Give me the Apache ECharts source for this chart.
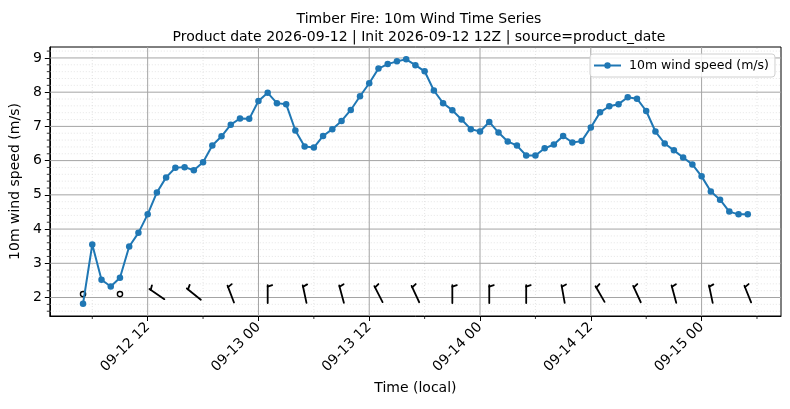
<!DOCTYPE html>
<html>
<head>
<meta charset="utf-8">
<title>Timber Fire: 10m Wind Time Series</title>
<script src="https://cdn.jsdelivr.net/npm/echarts@6/dist/echarts.min.js"></script>
<style>
  html, body { margin: 0; padding: 0; background: #fff; }
  #chart { width: 790px; height: 409px; }
</style>
</head>
<body>
<div id="chart"></div>
<script>
// hours since 2026-09-12 00:00 local
const hours = [5, 6, 7, 8, 9, 10, 11, 12, 13, 14, 15, 16, 17, 18, 19, 20, 21, 22, 23, 24,
  25, 26, 27, 28, 29, 30, 31, 32, 33, 34, 35, 36, 37, 38, 39, 40, 41, 42, 43, 44,
  45, 46, 47, 48, 49, 50, 51, 52, 53, 54, 55, 56, 57, 58, 59, 60, 61, 62, 63, 64,
  65, 66, 67, 68, 69, 70, 71, 72, 73, 74, 75, 76, 77];
const windSpeed = [1.82, 3.55, 2.52, 2.32, 2.58, 3.49, 3.89, 4.43, 5.07, 5.51, 5.79, 5.81, 5.72, 5.95, 6.44, 6.71, 7.05, 7.23, 7.22, 7.74,
  7.98, 7.68, 7.65, 6.88, 6.41, 6.38, 6.72, 6.92, 7.16, 7.48, 7.88, 8.26, 8.69, 8.82, 8.90, 8.96, 8.79, 8.61, 8.05, 7.68,
  7.47, 7.20, 6.92, 6.85, 7.13, 6.82, 6.56, 6.44, 6.15, 6.15, 6.36, 6.47, 6.72, 6.53, 6.57, 6.97, 7.41, 7.59, 7.65, 7.85,
  7.81, 7.45, 6.85, 6.50, 6.30, 6.09, 5.89, 5.54, 5.10, 4.86, 4.51, 4.43, 4.43];

// wind barbs every 4 h, direction in degrees (wind from), null = calm
const barbHours = [5, 9, 13, 17, 21, 25, 29, 33, 37, 41, 45, 49, 53, 57, 61, 65, 69, 73, 77];
const barbDir = [null, null, 304, 309, 339, 0, 348, 345, 333, 335, 0, 0, 0, 350, 330, 335, 345, 348, 338];
const BARB_LEVEL = 2.1;

const xTickHours = [12, 24, 36, 48, 60, 72];
const xTickLabels = ['09-12 12', '09-13 00', '09-13 12', '09-14 00', '09-14 12', '09-15 00'];
const xMinorHours = [6, 18, 30, 42, 54, 66, 78];
const yTicks = [2, 3, 4, 5, 6, 7, 8, 9];
const yMinor = [1.6, 1.8, 2.2, 2.4, 2.6, 2.8, 3.2, 3.4, 3.6, 3.8, 4.2, 4.4, 4.6, 4.8, 5.2, 5.4, 5.6, 5.8,
  6.2, 6.4, 6.6, 6.8, 7.2, 7.4, 7.6, 7.8, 8.2, 8.4, 8.6, 8.8, 9.2];

const X_MIN = 1.4, X_MAX = 80.6;
const Y_MIN = 1.46, Y_MAX = 9.32;

const FONT = 'DejaVu Sans';

// grid lines drawn through the axes' own scales
function gridLines(vals, isX, style) {
  return {
    type: 'custom', silent: true, z: 1, clip: false,
    data: vals.map(v => isX ? [v, Y_MIN] : [X_MIN, v]),
    renderItem: (params, api) => {
      const a = isX ? api.coord([api.value(0), Y_MIN]) : api.coord([X_MIN, api.value(1)]);
      const b = isX ? api.coord([api.value(0), Y_MAX]) : api.coord([X_MAX, api.value(1)]);
      return { type: 'line', shape: { x1: a[0], y1: a[1], x2: b[0], y2: b[1] }, style: style };
    }
  };
}

// minor tick marks outside the axes
function minorTicks(vals, isX, len) {
  return {
    type: 'custom', silent: true, z: 2, clip: false,
    data: vals.map(v => isX ? [v, Y_MIN] : [X_MIN, v]),
    renderItem: (params, api) => {
      const a = isX ? api.coord([api.value(0), Y_MIN]) : api.coord([X_MIN, api.value(1)]);
      const b = isX ? [a[0], a[1] + len] : [a[0] - len, a[1]];
      return { type: 'line', shape: { x1: a[0], y1: a[1], x2: b[0], y2: b[1] }, style: { stroke: '#000', lineWidth: 0.8 } };
    }
  };
}

const chart = echarts.init(document.getElementById('chart'));

const option = {
  animation: false,
  title: {
    text: 'Timber Fire: 10m Wind Time Series\nProduct date 2026-09-12 | Init 2026-09-12 12Z | source=product_date',
    left: 414,
    textAlign: 'center',
    top: 5,
    textStyle: { fontFamily: FONT, fontSize: 14, fontWeight: 'normal', color: '#000', lineHeight: 18 }
  },
  legend: {
    data: ['10m wind speed (m/s)'],
    left: 590,
    top: 54,
    padding: [5, 6, 5, 3],
    itemWidth: 27,
    itemHeight: 8,
    borderColor: '#d0d0d0',
    borderWidth: 1,
    borderRadius: 3,
    backgroundColor: 'rgba(255,255,255,0.85)',
    textStyle: { fontFamily: FONT, fontSize: 12.5, color: '#000', padding: [0, 0, 0, 3] }
  },
  grid: {
    left: 47, right: 9, top: 47, bottom: 93,
    show: true, borderColor: '#000', borderWidth: 1, backgroundColor: 'transparent'
  },
  xAxis: {
    type: 'value',
    min: X_MIN, max: X_MAX,
    name: 'Time (local)',
    nameLocation: 'middle',
    nameGap: 65,
    nameTextStyle: { fontFamily: FONT, fontSize: 14, color: '#000' },
    axisLine: { lineStyle: { color: '#000', width: 1 } },
    axisTick: { customValues: xTickHours, length: 5, lineStyle: { color: '#000', width: 1 } },
    axisLabel: {
      customValues: xTickHours,
      rotate: 45,
      margin: 9,
      fontFamily: FONT, fontSize: 14, color: '#000',
      formatter: v => xTickLabels[xTickHours.indexOf(v)] || ''
    },
    splitLine: { show: false }
  },
  yAxis: {
    type: 'value',
    min: Y_MIN, max: Y_MAX,
    name: '10m wind speed (m/s)',
    nameLocation: 'middle',
    nameGap: 24,
    nameTextStyle: { fontFamily: FONT, fontSize: 14, color: '#000' },
    axisLine: { show: true, lineStyle: { color: '#000', width: 1 } },
    axisTick: { show: true, customValues: yTicks, length: 5, lineStyle: { color: '#000', width: 1 } },
    axisLabel: { customValues: yTicks, margin: 8, fontFamily: FONT, fontSize: 14, color: '#000' },
    splitLine: { show: false }
  },
  series: [
    gridLines(xMinorHours, true, { stroke: '#d4d4d4', lineWidth: 0.6, lineDash: [1, 2] }),
    gridLines(yMinor, false, { stroke: '#d4d4d4', lineWidth: 0.6, lineDash: [1, 2] }),
    gridLines(xTickHours, true, { stroke: '#a4a4a4', lineWidth: 1 }),
    gridLines(yTicks, false, { stroke: '#a4a4a4', lineWidth: 1 }),
    minorTicks(xMinorHours, true, 3),
    minorTicks(yMinor, false, 3),
    {
      name: 'barbs',
      type: 'custom', silent: true, z: 4, clip: false,
      data: barbHours.map(h => [h, BARB_LEVEL]),
      renderItem: (params, api) => {
        const p = api.coord([api.value(0), api.value(1)]);
        const dir = barbDir[params.dataIndex];
        if (dir === null) {
          return { type: 'circle', shape: { cx: p[0], cy: p[1], r: 2.6 }, style: { fill: 'none', stroke: '#000', lineWidth: 1.4 } };
        }
        const r = dir * Math.PI / 180;
        const dx = Math.sin(r), dy = -Math.cos(r);
        const nx = -dy, ny = dx;
        const top = [p[0] + dx * 9, p[1] + dy * 9];
        const bot = [p[0] - dx * 9, p[1] - dy * 9];
        const fs = [top[0] - dx * 1.5, top[1] - dy * 1.5];
        const fe = [fs[0] + nx * 4.5 + dx * 1.5, fs[1] + ny * 4.5 + dy * 1.5];
        const st = { stroke: '#000', lineWidth: 1.8, lineCap: 'round' };
        return {
          type: 'group',
          children: [
            { type: 'line', shape: { x1: bot[0], y1: bot[1], x2: top[0], y2: top[1] }, style: st },
            { type: 'line', shape: { x1: fs[0], y1: fs[1], x2: fe[0], y2: fe[1] }, style: st }
          ]
        };
      }
    },
    {
      name: '10m wind speed (m/s)',
      type: 'line',
      z: 5,
      data: hours.map((h, i) => [h, windSpeed[i]]),
      symbol: 'circle',
      symbolSize: 6.5,
      showSymbol: true,
      itemStyle: { color: '#1f77b4' },
      lineStyle: { color: '#1f77b4', width: 2 }
    }
  ]
};

chart.setOption(option);
</script>
</body>
</html>
